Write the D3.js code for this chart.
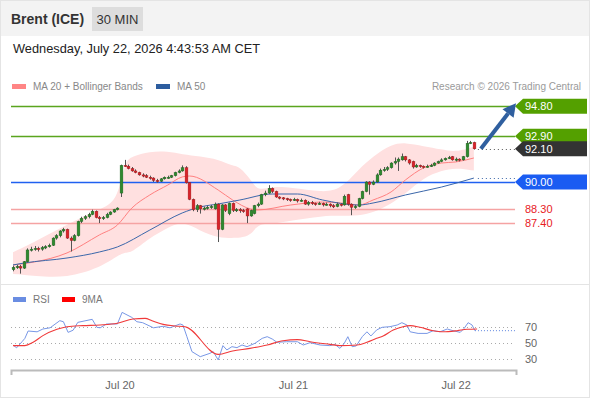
<!DOCTYPE html>
<html>
<head>
<meta charset="utf-8">
<script src="https://cdn.jsdelivr.net/npm/d3@7"></script>
<style>
  body { margin: 0; background: #fff; }
  svg { display: block; font-family: "Liberation Sans", Arial, sans-serif; }
</style>
</head>
<body>
<svg id="svg" width="590" height="400"></svg>
<script>
// candles, 30 min
const opens = [
  84.45, 84.60, 84.65, 84.55, 84.95, 85.70, 85.75, 85.80, 85.75, 85.85,
  85.90, 86.00, 86.45, 86.60, 86.90, 87.00, 86.45, 86.30, 86.60, 87.50,
  87.70, 87.80, 87.95, 88.15, 87.75, 87.70, 87.75, 87.95, 88.10, 88.25,
  89.30, 91.05, 91.00, 90.85, 90.70, 90.60, 90.45, 90.40, 90.30, 90.25,
  90.10, 90.05, 90.20, 90.30, 90.30, 90.40, 90.60, 90.70, 90.90, 89.95,
  88.90, 88.25, 88.50, 88.30, 88.35, 88.40, 88.30, 88.60, 87.00, 88.55,
  88.00, 88.65, 88.20, 88.25, 88.20, 88.30, 87.85, 88.00, 88.50, 88.60,
  89.20, 89.30, 89.60, 89.40, 89.05, 89.00, 88.95, 88.90, 88.85, 88.90,
  88.80, 88.85, 88.60, 88.70, 88.65, 88.60, 88.65, 88.55, 88.60, 88.50,
  88.45, 88.60, 88.55, 89.20, 88.60, 88.40, 88.45, 88.95, 89.40, 90.00,
  89.85, 90.00, 90.45, 90.75, 90.80, 90.90, 91.20, 91.30, 91.40, 91.60,
  91.40, 91.30, 90.95, 91.05, 91.00, 90.95, 91.00, 91.05, 91.20, 91.30,
  91.40, 91.50, 91.60, 91.40, 91.45, 91.40, 91.60, 92.45, 92.50
];
const closes = [
  84.60, 84.65, 84.55, 84.95, 85.70, 85.75, 85.80, 85.75, 85.85, 85.90,
  86.00, 86.45, 86.60, 86.90, 87.00, 86.45, 86.30, 86.60, 87.50, 87.70,
  87.80, 87.95, 88.15, 87.75, 87.70, 87.75, 87.95, 88.10, 88.25, 88.35,
  91.05, 91.00, 90.85, 90.70, 90.60, 90.45, 90.40, 90.30, 90.25, 90.10,
  90.05, 90.20, 90.30, 90.30, 90.40, 90.60, 90.70, 90.90, 89.95, 88.90,
  88.25, 88.50, 88.30, 88.35, 88.40, 88.45, 88.60, 87.00, 88.55, 88.20,
  88.65, 88.20, 88.25, 88.20, 88.15, 87.85, 88.20, 88.50, 88.60, 89.20,
  89.30, 89.60, 89.40, 89.05, 89.00, 88.95, 88.90, 88.85, 88.90, 88.80,
  88.85, 88.60, 88.70, 88.65, 88.60, 88.65, 88.55, 88.60, 88.50, 88.45,
  88.60, 88.55, 89.10, 88.60, 88.40, 88.45, 88.95, 89.40, 90.00, 89.85,
  90.00, 90.45, 90.75, 90.80, 90.90, 91.20, 91.30, 91.45, 91.60, 91.40,
  91.20, 90.95, 91.05, 91.00, 90.95, 91.00, 91.05, 91.20, 91.30, 91.40,
  91.50, 91.55, 91.40, 91.45, 91.40, 91.60, 92.45, 92.50, 92.10
];
const highs = [
  84.70, 84.75, 84.75, 85.00, 85.80, 85.90, 85.95, 85.90, 85.95, 86.00,
  86.10, 86.50, 86.70, 86.95, 87.10, 87.05, 86.55, 86.70, 87.55, 87.80,
  87.90, 88.05, 88.25, 88.20, 87.85, 87.85, 88.05, 88.15, 88.30, 88.40,
  91.10, 91.40, 91.10, 90.95, 90.80, 90.65, 90.55, 90.50, 90.40, 90.30,
  90.20, 90.25, 90.35, 90.40, 90.45, 90.65, 90.80, 91.05, 91.00, 90.00,
  88.95, 88.60, 88.55, 88.45, 88.50, 88.55, 88.70, 88.65, 88.60, 88.60,
  88.70, 88.70, 88.35, 88.35, 88.30, 88.35, 88.25, 88.55, 88.70, 89.25,
  89.45, 89.80, 89.65, 89.45, 89.10, 89.05, 89.00, 88.95, 89.00, 88.95,
  88.95, 88.90, 88.80, 88.80, 88.70, 88.75, 88.70, 88.70, 88.65, 88.60,
  88.70, 88.65, 89.20, 89.25, 88.65, 88.55, 89.00, 89.45, 90.05, 90.05,
  90.10, 90.55, 90.85, 90.95, 91.00, 91.25, 91.55, 91.55, 91.80, 91.65,
  91.45, 91.35, 91.15, 91.10, 91.05, 91.10, 91.15, 91.25, 91.35, 91.50,
  91.55, 91.65, 91.65, 91.55, 91.50, 91.65, 92.60, 92.60, 92.55
];
const lows = [
  84.35, 84.50, 84.20, 84.50, 84.90, 85.60, 85.65, 85.60, 85.65, 85.75,
  85.85, 85.95, 86.35, 86.50, 86.80, 86.40, 85.60, 86.25, 86.55, 87.40,
  87.60, 87.70, 87.90, 87.70, 87.40, 87.60, 87.70, 87.90, 88.05, 88.20,
  89.05, 90.95, 90.80, 90.65, 90.55, 90.40, 90.30, 90.25, 90.15, 90.00,
  89.95, 90.00, 90.15, 90.20, 90.25, 90.35, 90.55, 90.65, 89.90, 88.85,
  88.15, 88.10, 88.00, 88.20, 88.25, 88.30, 88.25, 86.20, 86.95, 88.10,
  87.90, 88.10, 88.10, 88.05, 88.05, 87.40, 87.80, 87.95, 88.40, 88.55,
  89.10, 89.25, 89.30, 89.00, 88.90, 88.85, 88.80, 88.75, 88.80, 88.70,
  88.75, 88.55, 88.50, 88.55, 88.50, 88.55, 88.45, 88.50, 88.40, 88.35,
  88.40, 88.45, 88.50, 88.50, 87.90, 88.30, 88.40, 88.90, 89.35, 89.20,
  89.80, 89.95, 90.40, 90.65, 90.70, 90.85, 91.10, 90.70, 91.35, 91.30,
  91.10, 90.85, 90.90, 90.90, 90.85, 90.90, 90.95, 91.00, 91.15, 91.25,
  91.35, 91.45, 91.35, 91.30, 91.30, 91.35, 91.55, 92.40, 92.05
];

// MA 20 + Bollinger Bands, MA 50 (read at candle index)
const ma20Idx = [0, 6, 15, 24, 29, 33, 38, 43, 47, 49, 57, 61, 66, 68, 77, 86, 91, 96, 100, 105, 109, 114, 119, 123, 128];
const ma20Val = [84.75, 84.94, 85.51, 86.65, 87.28, 88.35, 89.18, 89.81, 90.32, 90.38, 89.49, 88.86, 88.29, 88.23, 88.54, 88.73, 88.67, 88.54, 88.86, 89.37, 90.13, 90.89, 91.20, 91.27, 91.52];
const bandIdx = [0, 6, 15, 24, 29, 31, 33, 38, 43, 47, 52, 57, 61, 63, 66, 68, 72, 77, 86, 91, 96, 100, 105, 109, 114, 119, 123, 128];
const bandUpper = [85.55, 86.20, 87.32, 88.27, 88.75, 91.30, 91.62, 91.94, 91.94, 91.75, 91.62, 91.43, 91.00, 90.98, 90.15, 89.42, 89.72, 89.66, 89.34, 89.53, 90.80, 91.62, 92.38, 92.50, 92.26, 92.07, 91.88, 92.25];
const bandLower = [84.18, 84.05, 83.93, 84.56, 85.32, 85.55, 85.52, 86.47, 87.10, 87.55, 86.90, 86.46, 86.46, 86.46, 86.60, 87.35, 87.35, 87.55, 87.86, 87.86, 87.86, 88.05, 88.62, 89.25, 90.27, 90.72, 90.90, 90.72];
const ma50Idx = [0, 3, 15, 24, 29, 38, 47, 52, 57, 63, 72, 79, 86, 96, 100, 109, 119, 128];
const ma50Val = [84.75, 84.87, 85.19, 85.57, 85.89, 86.96, 88.04, 88.42, 88.61, 88.86, 89.24, 89.24, 88.86, 88.54, 88.67, 89.18, 89.68, 90.25];

// key levels
const levels = [94.80, 92.90, 90.00, 88.30, 87.40];
const levelKind = ["res", "res", "pivot", "sup", "sup"];
const lastPrice = 92.10;

// RSI panel
const rsiIdx = [0, 1, 2.5, 3.3, 4.2, 6.7, 8.3, 10.3, 13, 14, 15.3, 16.7, 18, 22, 23.3, 24.2, 26, 29, 30.3, 33, 34.4, 36, 39, 41.7, 43.6, 46.4, 47.2, 48.3, 49.7, 52, 54.7, 55.6, 57, 58.3, 59.4, 60.8, 62.2, 63.6, 65, 67.2, 69.2, 70.6, 72, 73.3, 76, 79, 80.6, 82.5, 85.3, 88, 89.4, 90.8, 92, 93, 94.2, 95.3, 97, 98.3, 99.4, 101, 102.5, 104.7, 106.7, 108, 109.4, 110.3, 112.5, 115, 116.7, 118.6, 120.6, 122.2, 124.2, 125.3, 126.4, 127.5, 128.3];
const rsiVal = [47.5, 44, 51.6, 55.8, 65, 64, 67.5, 69, 77.9, 76.6, 63.3, 66, 75.8, 79.6, 69.6, 69, 73.8, 73.8, 88.3, 82, 76.6, 75.4, 69, 70.9, 69, 73.8, 72.5, 57.9, 39.2, 32.9, 37.1, 39.2, 28.8, 46.7, 41.3, 45.4, 44.2, 47.5, 45.4, 49.6, 55.8, 57.9, 55, 50.9, 51.6, 51.6, 47.5, 50.4, 47.5, 46.7, 48.3, 43.3, 49.6, 57.9, 45.4, 46.3, 57.9, 64, 58.8, 66.3, 69.6, 70.4, 72.5, 75.4, 72.5, 64, 62, 62, 65.4, 64, 67.5, 65.4, 63.3, 68.3, 75.4, 72.5, 65.4];
const ma9Idx = [0, 3.3, 5.6, 8.3, 12.2, 15, 19.4, 24.2, 29, 33.3, 36.7, 38.6, 41.7, 45, 47.8, 57, 61, 65.8, 70.6, 75, 79, 82.5, 88, 90.8, 95.6, 98.3, 101, 102.8, 105.6, 108.3, 110.3, 113, 116.7, 119.4, 123.3, 126.1, 128.9];
const ma9Val = [46.7, 46.7, 50.9, 59.2, 67.1, 70.4, 71.7, 72.5, 74.6, 80, 80.8, 77.9, 73.3, 71.3, 70.4, 35.8, 40, 43.3, 47.5, 52.9, 54.2, 51.6, 48.3, 46.7, 47.5, 50.9, 55.8, 58.8, 66.3, 70.4, 71.7, 69.6, 65.4, 64, 65.4, 67.1, 67.5];
const rsiTicks = [70, 50, 30];

const dateIdx = [30, 78, 123];
const dateLabels = ["Jul 20", "Jul 21", "Jul 22"];

const W = 590, H = 400;
const svg = d3.select("#svg");

const x = d3.scaleLinear().domain([0, 139.7]).range([13, 516]);
const y = d3.scaleLinear().domain([84, 95]).range([276.8, 103]);
const yR = d3.scaleLinear().domain([30, 70]).range([359, 327]);
const xEnd = 515;

// frame + header
svg.append("rect").attr("x", 0.5).attr("y", 0.5).attr("width", W - 1).attr("height", H - 3)
  .attr("fill", "#fff").attr("stroke", "#e4e4e4");
svg.append("rect").attr("x", 1).attr("y", 1).attr("width", W - 2).attr("height", 35).attr("fill", "#f3f3f3");
svg.append("text").attr("x", 11).attr("y", 24).attr("font-size", 14).attr("font-weight", "bold")
  .attr("fill", "#333").text("Brent (ICE)");
svg.append("rect").attr("x", 92).attr("y", 7).attr("width", 51).attr("height", 24).attr("fill", "#dddddd");
svg.append("text").attr("x", 117.5).attr("y", 24).attr("font-size", 13).attr("text-anchor", "middle")
  .attr("fill", "#333").text("30 MIN");
svg.append("text").attr("x", 13).attr("y", 53).attr("font-size", 12.8).attr("fill", "#222")
  .text("Wednesday, July 22, 2026 4:43:53 AM CET");

// legend
const legend = [
  { label: "MA 20 + Bollinger Bands", color: "#ff8585", x: 12 },
  { label: "MA 50", color: "#2d5d9f", x: 156 }
];
legend.forEach(d => {
  svg.append("rect").attr("x", d.x).attr("y", 84).attr("width", 14).attr("height", 5).attr("fill", d.color);
  svg.append("text").attr("x", d.x + 21).attr("y", 90).attr("font-size", 10).attr("fill", "#888").text(d.label);
});
svg.append("text").attr("x", 581).attr("y", 90).attr("font-size", 10).attr("fill", "#9a9a9a")
  .attr("text-anchor", "end").text("Research \u00a9 2026 Trading Central");

// bollinger band
const band = d3.area()
  .x((d, i) => x(bandIdx[i]))
  .y0((d, i) => y(bandLower[i]))
  .y1((d, i) => y(bandUpper[i]))
  .curve(d3.curveBasis);
svg.append("path").attr("d", band(bandIdx)).attr("fill", "#ffe0e0");

// key levels
const levelColor = { res: "#5aa51e", pivot: "#2060f0", sup: "#f5a3a3" };
levels.forEach((v, i) => {
  svg.append("line").attr("x1", 11).attr("x2", xEnd)
    .attr("y1", Math.round(y(v)) + 0.5).attr("y2", Math.round(y(v)) + 0.5)
    .attr("stroke", levelColor[levelKind[i]])
    .attr("stroke-width", levelKind[i] === "sup" ? 1.3 : 1.6);
});

// moving averages
const line = d3.line().curve(d3.curveMonotoneX);
svg.append("path")
  .attr("d", line(ma20Idx.map((d, i) => [x(d), y(ma20Val[i])])))
  .attr("fill", "none").attr("stroke", "#ff8080").attr("stroke-width", 1);
svg.append("path")
  .attr("d", line(ma50Idx.map((d, i) => [x(d), y(ma50Val[i])])))
  .attr("fill", "none").attr("stroke", "#3b67aa").attr("stroke-width", 1);

// candles
const bw = 2.8;
const candles = svg.append("g");
closes.forEach((c, i) => {
  const o = opens[i];
  const cx = Math.round(x(i)) + 0.5;
  candles.append("line").attr("x1", cx).attr("x2", cx)
    .attr("y1", y(highs[i])).attr("y2", y(lows[i]))
    .attr("stroke", "#555").attr("stroke-width", 1);
  const top = y(Math.max(o, c));
  const h = Math.max(1.2, Math.abs(y(o) - y(c)));
  candles.append("rect").attr("x", cx - bw / 2).attr("y", top).attr("width", bw).attr("height", h)
    .attr("fill", c >= o ? "#2f8a2f" : "#d9232b")
    .attr("stroke", c >= o ? "#1f5f1f" : "#9a1a1a").attr("stroke-width", 0.4);
});

// dotted leaders to right labels
const last = closes.length - 1;
svg.append("line").attr("x1", x(last) + 4).attr("x2", xEnd)
  .attr("y1", Math.round(y(lastPrice)) + 0.5).attr("y2", Math.round(y(lastPrice)) + 0.5)
  .attr("stroke", "#555").attr("stroke-dasharray", "1,3");
svg.append("line").attr("x1", x(last) + 4).attr("x2", xEnd)
  .attr("y1", Math.round(y(ma50Val[ma50Val.length - 1])) + 0.5)
  .attr("y2", Math.round(y(ma50Val[ma50Val.length - 1])) + 0.5)
  .attr("stroke", "#3b67aa").attr("stroke-dasharray", "1,3");

// right tags
const tag = (v, fill) => {
  const cy = y(v);
  const p = d3.path();
  p.moveTo(xEnd, cy);
  p.lineTo(xEnd + 8, cy - 7.5);
  p.lineTo(587, cy - 7.5);
  p.lineTo(587, cy + 7.5);
  p.lineTo(xEnd + 8, cy + 7.5);
  p.closePath();
  svg.append("path").attr("d", p.toString()).attr("fill", fill);
  svg.append("text").attr("x", 525).attr("y", cy + 4).attr("font-size", 11)
    .attr("fill", "#fff").text(v.toFixed(2));
};
levels.forEach((v, i) => {
  if (levelKind[i] === "res") tag(v, "#54a000");
  else if (levelKind[i] === "pivot") tag(v, "#1a5cf2");
  else svg.append("text").attr("x", 525).attr("y", y(v) + 4).attr("font-size", 11)
    .attr("fill", "#e8201e").text(v.toFixed(2));
});
tag(lastPrice, "#333");

// forecast arrow towards first resistance
const ax0 = x(last) + 7, ay0 = y(lastPrice);
const ax1 = xEnd + 1, ay1 = y(levels[0]) - 3;
const len = Math.hypot(ax1 - ax0, ay1 - ay0);
const ux = (ax1 - ax0) / len, uy = (ay1 - ay0) / len;
const bx = ax1 - ux * 13, by = ay1 - uy * 13;
svg.append("line").attr("x1", ax0).attr("y1", ay0).attr("x2", bx).attr("y2", by)
  .attr("stroke", "#2f5f9f").attr("stroke-width", 4);
svg.append("path")
  .attr("d", `M${ax1},${ay1}L${bx - uy * 7},${by + ux * 7}L${bx + uy * 7},${by - ux * 7}Z`)
  .attr("fill", "#2f5f9f");

// panel separator
svg.append("line").attr("x1", 1).attr("x2", W - 1).attr("y1", 284.5).attr("y2", 284.5).attr("stroke", "#e4e4e4");

// RSI legend
[{ label: "RSI", color: "#6a8de2", x: 13 }, { label: "9MA", color: "#ff0000", x: 62 }].forEach(d => {
  svg.append("rect").attr("x", d.x).attr("y", 297).attr("width", 13).attr("height", 5).attr("fill", d.color);
  svg.append("text").attr("x", d.x + 20).attr("y", 303).attr("font-size", 10).attr("fill", "#777").text(d.label);
});

// RSI grid
rsiTicks.forEach(t => {
  svg.append("line").attr("x1", 11).attr("x2", xEnd)
    .attr("y1", Math.round(yR(t)) + 0.5).attr("y2", Math.round(yR(t)) + 0.5)
    .attr("stroke", "#aaa").attr("stroke-dasharray", "1,3");
  svg.append("text").attr("x", 525).attr("y", yR(t) + 4).attr("font-size", 11)
    .attr("fill", "#666").text(t);
});

const lineR = d3.line();
svg.append("path")
  .attr("d", lineR(rsiIdx.map((d, i) => [x(d), yR(rsiVal[i])])))
  .attr("fill", "none").attr("stroke", "#7897e6").attr("stroke-width", 1);
svg.append("line").attr("x1", x(rsiIdx[rsiIdx.length - 1])).attr("x2", xEnd)
  .attr("y1", yR(rsiVal[rsiVal.length - 1])).attr("y2", yR(rsiVal[rsiVal.length - 1]))
  .attr("stroke", "#5f86e0").attr("stroke-dasharray", "1,2");
svg.append("path")
  .attr("d", d3.line().curve(d3.curveMonotoneX)(ma9Idx.map((d, i) => [x(d), yR(ma9Val[i])])))
  .attr("fill", "none").attr("stroke", "#f03a3a").attr("stroke-width", 1.1);

// time axis
const xAxis = d3.axisBottom(d3.scaleLinear().domain(x.domain()).range([11, 516]))
  .tickValues(dateIdx)
  .tickFormat((d, i) => dateLabels[i])
  .tickSizeInner(0).tickSizeOuter(5).tickPadding(11);
const gAx = svg.append("g").attr("transform", "translate(0,370)").call(xAxis);
gAx.select(".domain").attr("stroke", "#bbb").attr("stroke-width", 2);
gAx.selectAll("text").attr("font-size", 11).attr("fill", "#666")
  .attr("font-family", "Liberation Sans, Arial, sans-serif");
</script>
</body>
</html>
